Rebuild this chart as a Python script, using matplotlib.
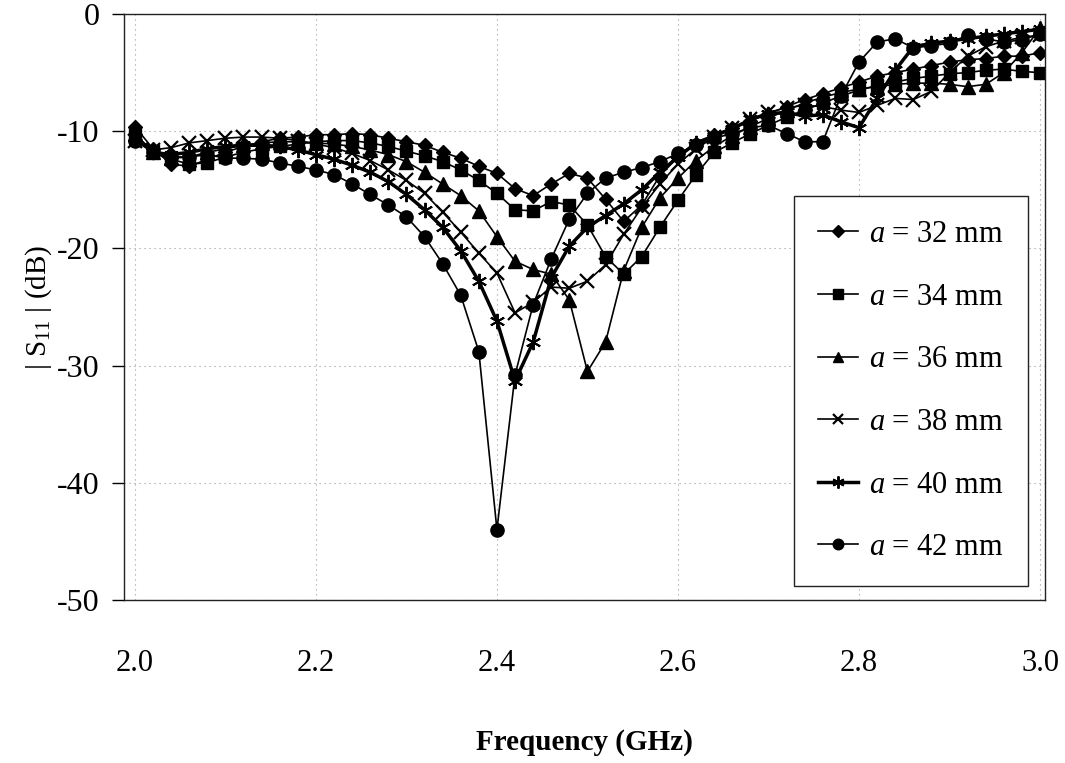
import matplotlib
matplotlib.use("Agg")
import matplotlib.pyplot as plt

# frequency points (GHz)
freq = [2.00, 2.02, 2.04, 2.06, 2.08, 2.10, 2.12, 2.14, 2.16, 2.18,
        2.20, 2.22, 2.24, 2.26, 2.28, 2.30, 2.32, 2.34, 2.36, 2.38,
        2.40, 2.42, 2.44, 2.46, 2.48, 2.50, 2.52, 2.54, 2.56, 2.58,
        2.60, 2.62, 2.64, 2.66, 2.68, 2.70, 2.72, 2.74, 2.76, 2.78,
        2.80, 2.82, 2.84, 2.86, 2.88, 2.90, 2.92, 2.94, 2.96, 2.98, 3.00]

# |S11| in dB for each patch size a
s11_32 = [-9.6, -11.5, -12.8, -13.0, -12.4, -11.8, -11.3, -10.9, -10.6, -10.5,
          -10.3, -10.3, -10.2, -10.3, -10.6, -10.9, -11.2, -11.8, -12.3, -13.0,
          -13.6, -14.9, -15.5, -14.5, -13.6, -14.0, -15.8, -17.7, -16.3, -13.8,
          -12.2, -11.1, -10.3, -9.7, -9.1, -8.5, -7.9, -7.3, -6.8, -6.3,
          -5.8, -5.3, -5.0, -4.7, -4.4, -4.1, -3.9, -3.8, -3.6, -3.6, -3.3]
s11_34 = [-10.3, -11.7, -12.4, -12.8, -12.7, -12.2, -11.8, -11.5, -11.3, -11.1,
          -10.9, -10.8, -10.8, -11.0, -11.3, -11.7, -12.1, -12.6, -13.3, -14.2,
          -15.3, -16.7, -16.8, -16.0, -16.3, -18.0, -20.7, -22.2, -20.7, -18.2,
          -15.9, -13.7, -11.8, -11.0, -10.2, -9.5, -8.8, -8.2, -7.6, -7.0,
          -6.5, -6.1, -5.8, -5.5, -5.3, -5.1, -5.0, -4.8, -4.7, -4.9, -5.0]
s11_36 = [-10.2, -11.8, -12.3, -12.2, -11.8, -11.5, -11.2, -11.0, -10.9, -10.9,
          -11.0, -11.1, -11.3, -11.6, -12.0, -12.6, -13.5, -14.5, -15.5, -16.8,
          -19.0, -21.1, -21.8, -22.2, -24.4, -30.5, -28.0, -21.9, -18.2, -15.7,
          -14.0, -12.5, -11.3, -10.4, -9.6, -8.9, -8.2, -7.6, -7.1, -6.7,
          -6.4, -6.2, -6.0, -5.9, -5.9, -6.0, -6.2, -6.0, -5.0, -3.3, -1.2]
s11_38 = [-10.8, -11.6, -11.4, -11.0, -10.8, -10.6, -10.5, -10.5, -10.6, -10.8,
          -11.1, -11.4, -11.9, -12.5, -13.3, -14.2, -15.3, -16.9, -18.6, -20.4,
          -22.1, -25.5, -24.6, -23.3, -23.4, -22.8, -21.4, -18.8, -16.5, -14.5,
          -12.8, -11.5, -10.5, -9.7, -9.0, -8.4, -8.0, -7.8, -7.9, -8.2,
          -8.4, -7.8, -7.2, -7.3, -6.6, -5.0, -3.6, -2.8, -2.3, -2.0, -1.8]
s11_40 = [-10.5, -11.8, -12.0, -11.8, -11.5, -11.3, -11.2, -11.2, -11.3, -11.6,
          -12.0, -12.4, -12.9, -13.5, -14.3, -15.4, -16.7, -18.2, -20.2, -22.8,
          -26.2, -31.3, -28.0, -22.5, -19.8, -18.2, -17.2, -16.2, -15.0, -13.5,
          -12.2, -11.0, -10.4, -9.8, -9.0, -8.5, -8.4, -8.7, -8.6, -9.2,
          -9.7, -7.2, -4.8, -2.8, -2.5, -2.3, -2.1, -1.9, -1.7, -1.5, -1.3]
s11_42 = [-10.8, -11.8, -12.2, -12.2, -12.0, -12.3, -12.3, -12.4, -12.7, -13.0,
          -13.3, -13.7, -14.5, -15.4, -16.3, -17.3, -19.0, -21.3, -24.0, -28.8,
          -44.0, -30.8, -24.8, -20.9, -17.5, -15.3, -14.0, -13.5, -13.1, -12.6,
          -11.9, -11.2, -10.6, -10.2, -9.7, -9.5, -10.2, -10.9, -10.9, -7.0,
          -4.1, -2.4, -2.1, -2.9, -2.7, -2.5, -1.8, -2.1, -2.4, -2.2, -1.7]

labels = ["32", "34", "36", "38", "40", "42"]
series = [s11_32, s11_34, s11_36, s11_38, s11_40, s11_42]

plt.rcParams["font.family"] = ["Liberation Serif", "DejaVu Serif"]
plt.rcParams["mathtext.fontset"] = "custom"
plt.rcParams["mathtext.rm"] = "Liberation Serif"
plt.rcParams["mathtext.it"] = "Liberation Serif:italic"
plt.rcParams["axes.unicode_minus"] = False

fig = plt.figure(figsize=(10.65, 7.63), dpi=100)
ax = fig.add_axes([124 / 1065, 1 - 600 / 763, 921 / 1065, 586 / 763])

styles = [
    dict(marker="D", ms=7.5, lw=1.2),
    dict(marker="s", ms=8.5, lw=1.2),
    dict(marker="^", ms=9.5, lw=1.2),
    dict(marker="x", ms=9.5, mew=1.6, lw=1.2),
    dict(marker=(6, 2, 0), ms=11, mew=1.4, lw=2.5),
    dict(marker="o", ms=9.5, lw=1.2),
]

for vals, lab, st in zip(series, labels, styles):
    ax.plot(freq, vals, color="black", label=r"$a$ = " + lab + " mm", **st)

ax.set_xlim(1.988, 3.0055)
ax.set_ylim(-50, 0)
ax.set_xticks([2.0, 2.2, 2.4, 2.6, 2.8, 3.0])
ax.set_xticklabels(["2.0", "2.2", "2.4", "2.6", "2.8", "3.0"])
ax.set_yticks([0, -10, -20, -30, -40, -50])

ax.grid(True, linestyle=(0, (1, 3.5)), color="#999999", linewidth=0.8)
ax.set_axisbelow(True)

ax.tick_params(axis="x", length=0, pad=35, labelsize=22)
ax.tick_params(axis="y", direction="out", length=8.6, width=1.0, pad=9, labelsize=23)
for sp in ax.spines.values():
    sp.set_linewidth(1.0)
    sp.set_color("#222222")

ax.set_xlabel("Frequency (GHz)", fontsize=21, fontweight="bold", labelpad=37)
ax.set_ylabel(r"| S$_{11}$ | (dB)", fontsize=21, labelpad=2)

leg = ax.legend(loc="upper right", bbox_to_anchor=(0.9815, 0.689),
                borderaxespad=0, fontsize=22, frameon=True, fancybox=False,
                edgecolor="#222222", framealpha=1, borderpad=0.78,
                labelspacing=1.10, handlelength=1.3, handletextpad=0.38,
                markerscale=0.8)
leg.get_frame().set_linewidth(1.0)

fig.savefig("out.png", dpi=100)
